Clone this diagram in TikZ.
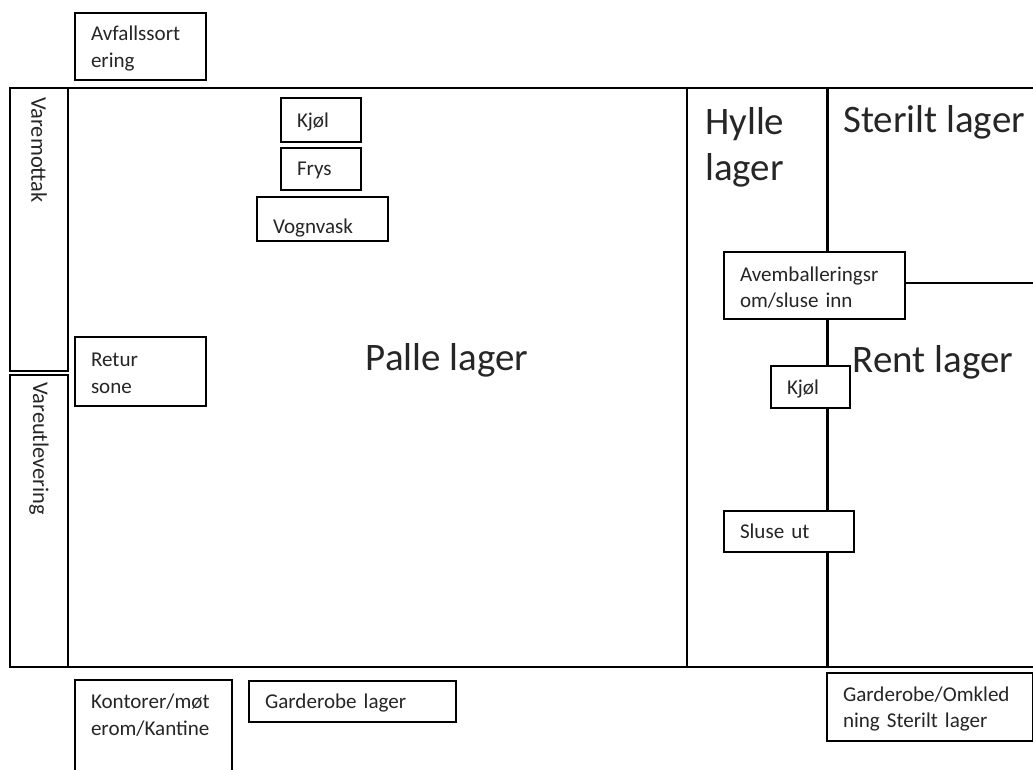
\documentclass[tikz,border=0pt]{standalone}
\usepackage{fontspec}
\setmainfont{Carlito}
\usetikzlibrary{positioning}

\begin{document}
\begin{tikzpicture}[x=0.75pt, y=-0.75pt]
		\tikzstyle{Room}	= [rectangle, draw, fill=white, line width=1.5pt, anchor=north west, outer sep=0pt, inner sep=0pt]
		\tikzstyle{Box}		= [Room, inner xsep=12pt, align=left, text=black!85, font=\fontsize{15.8}{20}\selectfont, execute at end node={\endgraf\vspace{-3pt}}]
		\tikzstyle{Big}		= [align=left, text=black!85, inner sep=0pt, font=\fontsize{29.2}{34.5}\selectfont]
		\tikzstyle{Side}	= [rotate=-90, anchor=west, inner sep=0pt, text=black!85, font=\fontsize{16.8}{20}\selectfont]
		\tikzstyle{Wall}	= [line width=1.5pt]
		\tikzstyle{Thick}	= [line width=2.25pt]

		\path [use as bounding box, clip] (0,0) rectangle (1033,769);

		\coordinate (topL) at (10,88);
		\coordinate (topR) at (1040,88);
		\coordinate (botL) at (10,667);
		\coordinate (botR) at (1040,667);
		\coordinate (hyllaT) at (687,88);
		\coordinate (hyllaB) at (687,667);
		\coordinate (sterilT) at (827,88);
		\coordinate (sterilB) at (827,667);
		\coordinate (rentR) at (1040,283);

		\draw (topL) -- (topR) [Wall];
		\draw (botL) -- (botR) [Wall];
		\draw (hyllaT) -- (hyllaB) [Wall];
		\draw (sterilT) -- (sterilB) [Thick];

		\node (varemottak) at (10,88) [Room, minimum width=43.5pt, minimum height=212.25pt] {};
		\node (vareut) at (10,375) [Room, minimum width=43.5pt, minimum height=219pt] {};
		\node (varemottakText) at (39,97) [Side] {Varemottak};
		\node (vareutText) at (39,382) [Side] {Vareutlevering};

		\node (avfall) at (75,13) [Box, minimum height=50.25pt, text width=74.25pt] {Avfallssort\\ering};
		\node (kjol) at (281,98) [Box, minimum height=33pt, text width=36pt] {Kjøl};
		\node (frys) at (281,148) [Box, minimum height=31.5pt, text width=36pt] {Frys};
		\node (vogn) at (257,197) [Box, minimum height=33pt, text width=74.25pt] {\raisebox{-10.5pt}[0pt][0pt]{Vognvask}};
		\node (retur) at (75,337) [Box, minimum height=51.75pt, text width=74.25pt] {Retur\\sone};
		\node (avemb) at (724,252) [Box, minimum height=50.25pt, text width=111.75pt] {Avemballeringsr\\om/sluse inn};
		\node (kjolRent) at (771,366) [Box, minimum height=31.5pt, text width=35.25pt] {Kjøl};
		\node (sluse) at (724,511) [Box, minimum height=30.75pt, text width=73.5pt] {Sluse ut};
		\node (garderobe) at (249,681) [Box, minimum height=30.75pt, text width=131.25pt] {Garderobe lager};
		\node (omkled) at (827,673) [Box, minimum height=51pt, text width=130.5pt] {Garderobe/Omkled\\ning Sterilt lager};
		\node (kontor) at (75,680) [Room, minimum width=117.75pt, minimum height=90pt] {};
		\node (kontorText) at (91,694) [Box, draw=none, fill=none, inner sep=0pt, text width=110pt] {Kontorer/møt\\erom/Kantine};

		\draw (rentR -| avemb.east) -- (rentR) [Wall];

		\node (palle) at (447,360) [Big] {Palle lager};
		\node (hylle) at (705,107) [Big, anchor=north west] {Hylle\\lager};
		\node (steril) at (843,105) [Big, anchor=north west] {Sterilt lager};
		\node (rent) at (933,362) [Big] {Rent lager};
	\end{tikzpicture}
\end{document}
